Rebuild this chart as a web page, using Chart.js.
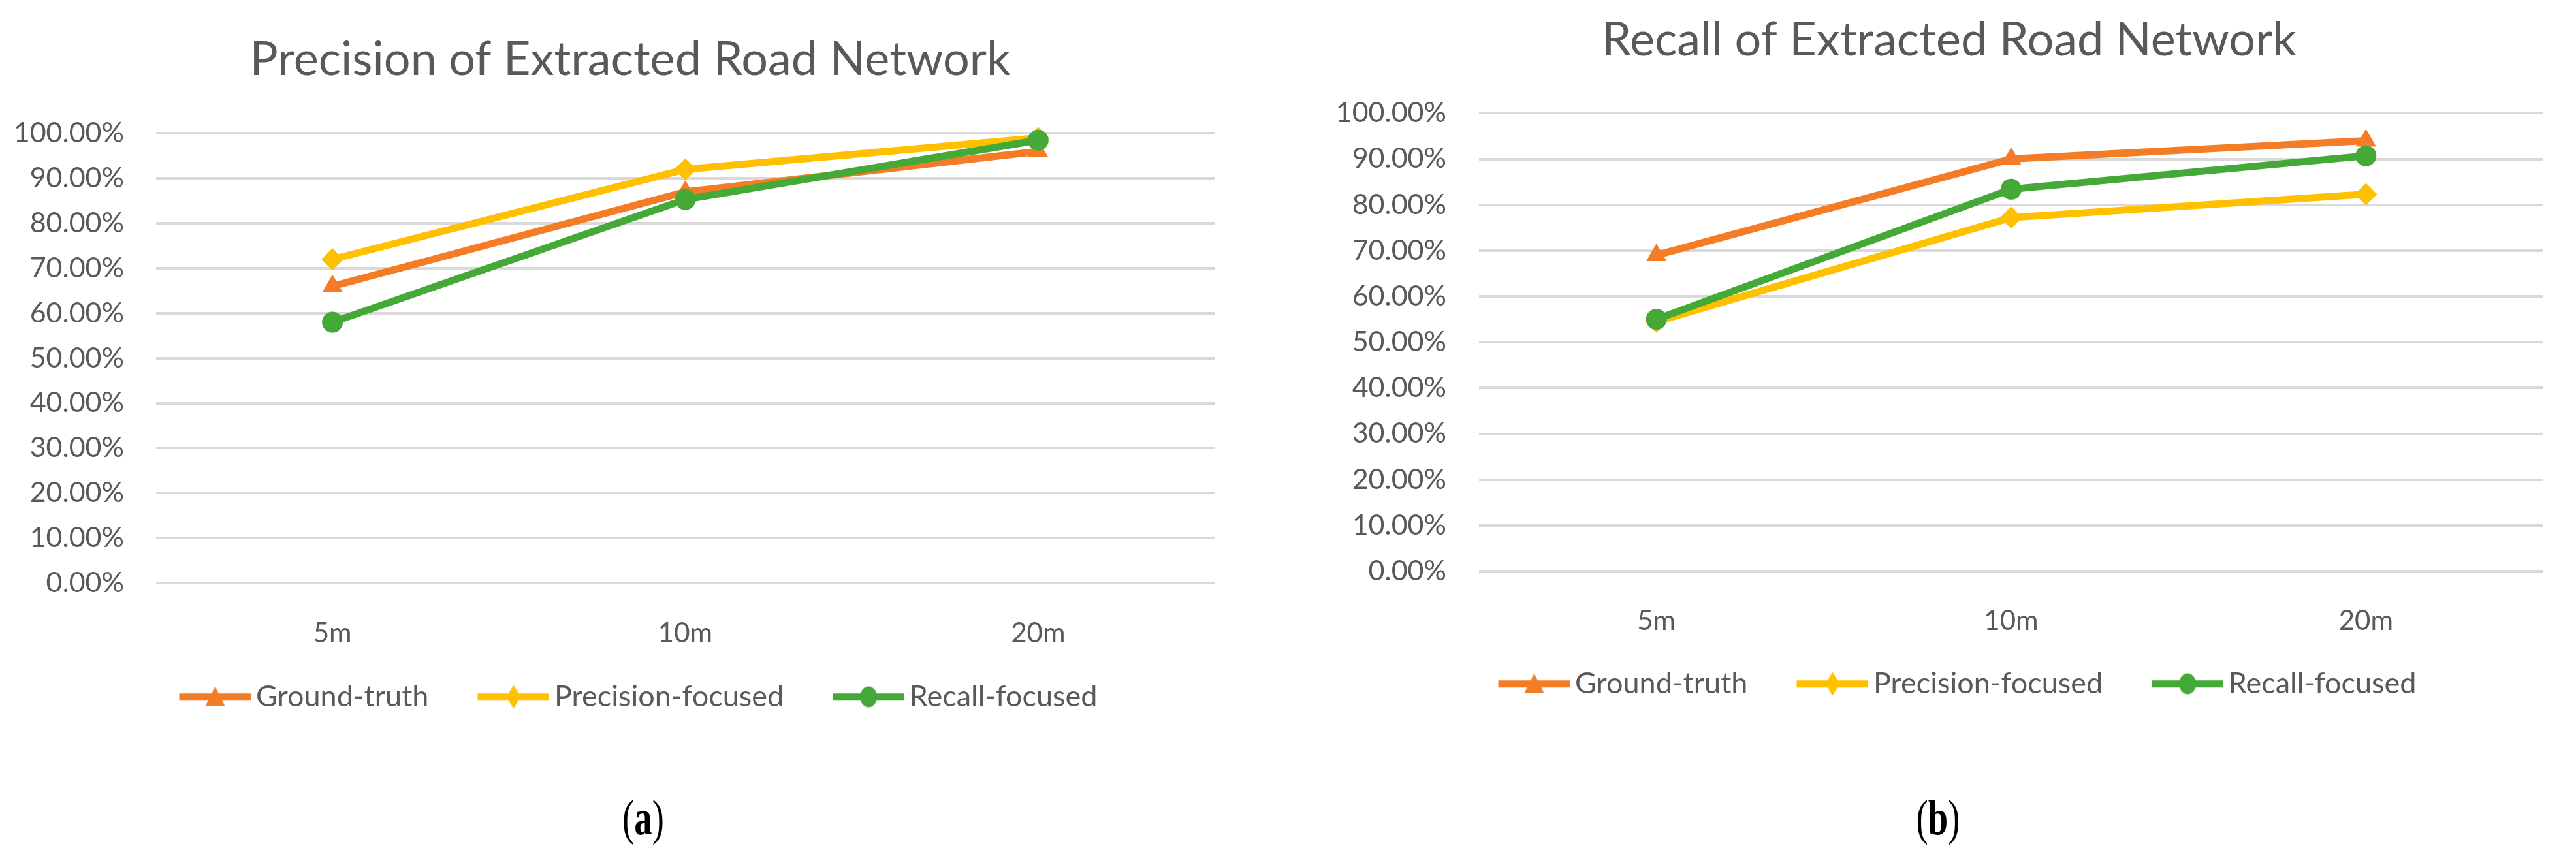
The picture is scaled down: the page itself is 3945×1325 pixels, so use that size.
<!DOCTYPE html>
<html>
<head>
<meta charset="utf-8">
<title>Precision and recall of extracted road network</title>
<script src="https://cdn.jsdelivr.net/npm/chart.js@4.4.1/dist/chart.umd.min.js"></script>
<style>
  html, body { margin: 0; padding: 0; background: #fff; }
  #page { position: relative; width: 3945px; height: 1325px; overflow: hidden; background: #fff; }
  canvas { position: absolute; top: 0; }
  #precisionChart { left: 10px; }
  #recallChart { left: 2035px; }
  .caption {
    position: absolute; top: 1212px; width: 200px; line-height: 80px;
    text-align: center; font-family: "Liberation Serif", "Times New Roman", serif;
    font-size: 76px; color: #000; transform: scaleX(0.72);
  }
</style>
</head>
<body>
<div id="page">
  <canvas id="precisionChart" width="1910" height="1100"></canvas>
  <canvas id="recallChart" width="1900" height="1080"></canvas>
  <div class="caption" style="left:885px">(<b>a</b>)</div>
  <div class="caption" style="left:2868px">(<b>b</b>)</div>
</div>
<script>
/* Two Excel-style line charts: precision and recall of the extracted road
 * network for three buffer distances. Values are percentages. */

const DISTANCES = ["5m", "10m", "20m"];
const SERIES_NAMES = ["Ground-truth", "Precision-focused", "Recall-focused"];

const PRECISION_GROUND_TRUTH = [66.0, 87.0, 96.0];
const PRECISION_PRECISION_FOCUSED = [72.0, 92.0, 99.0];
const PRECISION_RECALL_FOCUSED = [58.0, 85.3, 98.5];

const RECALL_GROUND_TRUTH = [69.0, 90.0, 94.0];
const RECALL_PRECISION_FOCUSED = [54.5, 77.2, 82.3];
const RECALL_RECALL_FOCUSED = [55.0, 83.4, 90.7];

const COLORS = ["#F57C26", "#FFC000", "#44A937"];
const POINT_STYLES = ["triangle", "rectRot", "circle"];
const POINT_RADII = [18, 17, 16];
const TEXT_COLOR = "#595959";
const GRID_COLOR = "#D9D9D9";
const FONT = "Lato, 'Open Sans', sans-serif";

// legend icon: a short thick line with the series marker in the middle.
// The blank left part shifts the visible icon right inside the legend box.
function legendIcon(color, style) {
  const c = document.createElement("canvas");
  c.width = 150;
  c.height = 40;
  const g = c.getContext("2d");
  g.strokeStyle = color;
  g.fillStyle = color;
  g.lineWidth = 11;
  g.beginPath();
  g.moveTo(40, 20);
  g.lineTo(150, 20);
  g.stroke();
  const cx = 95;
  g.beginPath();
  if (style === "triangle") {
    g.moveTo(cx, 4); g.lineTo(cx + 15, 34); g.lineTo(cx - 15, 34);
  } else if (style === "rectRot") {
    g.moveTo(cx, 2); g.lineTo(cx + 11, 20); g.lineTo(cx, 38); g.lineTo(cx - 11, 20);
  } else {
    g.ellipse(cx, 20, 13, 16, 0, 0, Math.PI * 2);
  }
  g.closePath();
  g.fill();
  return c;
}

const LEGEND_ICONS = COLORS.map((c, i) => legendIcon(c, POINT_STYLES[i]));

function buildDatasets(seriesValues) {
  return seriesValues.map((values, i) => ({
    label: SERIES_NAMES[i],
    data: values,
    yAxisID: "y",
    borderColor: COLORS[i],
    backgroundColor: COLORS[i],
    borderWidth: 11,
    pointStyle: POINT_STYLES[i],
    pointRadius: POINT_RADII[i],
    pointHoverRadius: POINT_RADII[i],
    pointBorderWidth: 0,
    tension: 0,
    fill: false,
    order: 2 - i, // recall-focused drawn on top, like the source
    clip: false,
  }));
}

function makeChart(id, title, seriesValues, lay) {
  return new Chart(document.getElementById(id), {
    type: "line",
    data: { labels: DISTANCES, datasets: buildDatasets(seriesValues) },
    options: {
      responsive: false,
      animation: false,
      events: [],
      layout: { padding: 0 },
      plugins: {
        title: {
          display: true,
          text: title,
          color: TEXT_COLOR,
          font: { family: FONT, size: 72, weight: "normal" },
          padding: { top: lay.titleTop, bottom: lay.titleBottom },
        },
        legend: {
          position: "bottom",
          labels: {
            color: TEXT_COLOR,
            font: { family: FONT, size: 45 },
            usePointStyle: true,
            pointStyleWidth: 120,
            padding: 50,
            generateLabels: (chart) =>
              chart.data.datasets.map((ds, i) => ({
                text: ds.label,
                fontColor: TEXT_COLOR,
                pointStyle: LEGEND_ICONS[i],
                fillStyle: COLORS[i],
                strokeStyle: COLORS[i],
                lineWidth: 0,
                hidden: false,
                datasetIndex: i,
              })),
          },
        },
        tooltip: { enabled: false },
      },
      scales: {
        x: {
          offset: true,
          grid: { display: false },
          border: { display: false },
          ticks: { color: TEXT_COLOR, font: { family: FONT, size: 42 }, padding: lay.xPad, maxRotation: 0 },
          afterFit: (scale) => { scale.height = lay.xHeight; },
        },
        y: {
          min: 0,
          max: 100,
          grid: { color: GRID_COLOR, lineWidth: 4, drawTicks: false },
          border: { display: false },
          ticks: {
            stepSize: 10,
            color: TEXT_COLOR,
            font: { family: FONT, size: 43 },
            padding: lay.yPad,
            callback: (v) => v.toFixed(2) + "%",
          },
          afterFit: (scale) => { scale.width = lay.yWidth; },
        },
        // empty right-hand axis: only reserves the blank margin right of the plot
        yRight: {
          position: "right",
          grid: { display: false },
          border: { display: false },
          ticks: { display: false },
          afterFit: (scale) => { scale.width = lay.rightGap; },
        },
      },
    },
  });
}

makeChart(
  "precisionChart",
  "Precision of Extracted Road Network",
  [PRECISION_GROUND_TRUTH, PRECISION_PRECISION_FOCUSED, PRECISION_RECALL_FOCUSED],
  { titleTop: 49, titleBottom: 69, xPad: 44, xHeight: 102, yPad: 49, yWidth: 229, rightGap: 60 }
);

makeChart(
  "recallChart",
  "Recall of Extracted Road Network",
  [RECALL_GROUND_TRUTH, RECALL_PRECISION_FOCUSED, RECALL_RECALL_FOCUSED],
  { titleTop: 19, titleBottom: 68, xPad: 43, xHeight: 100, yPad: 50, yWidth: 230, rightGap: 40 }
);
</script>
</body>
</html>
